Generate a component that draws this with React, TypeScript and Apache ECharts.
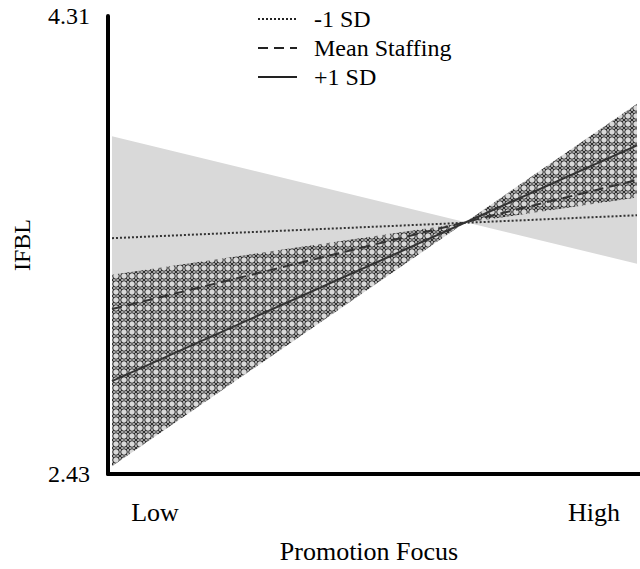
import React, { useEffect, useRef } from 'react';
import * as echarts from 'echarts';

// ---- data ----
const xLevels = [0, 1]; // Low, High promotion focus
const xTickLabels = ['Low', 'High'];
const xTickPositions = [0.082, 0.918];
const yTickValues = [2.43, 4.31];
const seriesNames = ['-1 SD', 'Mean Staffing', '+1 SD'];
const lowSD = [3.398, 3.492];
const meanStaffing = [3.107, 3.637];
const highSD = [2.811, 3.779];
// bands: two bounding lines each, value at Low and at High
const grayBandA = [3.816, 3.293];
const grayBandB = [2.98, 3.691];
const hatchBandA = [3.248, 3.565];
const hatchBandB = [2.462, 3.95];

const FONT = "'Liberation Serif', 'Times New Roman', serif";
const DASHES: any[] = [[2, 2], [10, 6], null];

function makeHatch(): HTMLCanvasElement {
  const c = document.createElement('canvas');
  c.width = 8;
  c.height = 8;
  const ctx = c.getContext('2d')!;
  ctx.fillStyle = '#d9d9d9';
  ctx.fillRect(0, 0, 8, 8);
  ctx.strokeStyle = '#2a2a2a';
  ctx.lineWidth = 1;
  ctx.beginPath();
  ctx.arc(4, 4, 3.3, 0, Math.PI * 2);
  ctx.stroke();
  ctx.lineWidth = 1.2;
  ctx.beginPath();
  const corners = [[0, 0], [8, 0], [0, 8], [8, 8]];
  for (const [cx, cy] of corners) {
    ctx.moveTo(cx - 2.2, cy - 2.2);
    ctx.lineTo(cx + 2.2, cy + 2.2);
    ctx.moveTo(cx + 2.2, cy - 2.2);
    ctx.lineTo(cx - 2.2, cy + 2.2);
  }
  ctx.stroke();
  return c;
}

function bandSeries(name: string, a: number[], b: number[], fill: any, z: number) {
  return {
    name,
    type: 'custom',
    z,
    silent: true,
    data: [[a[0], a[1], b[0], b[1]]],
    encode: { x: -1, y: -1 },
    renderItem: (_params: any, api: any) => {
      const pts = [
        api.coord([xLevels[0], api.value(0)]),
        api.coord([xLevels[1], api.value(1)]),
        api.coord([xLevels[1], api.value(3)]),
        api.coord([xLevels[0], api.value(2)]),
      ];
      return { type: 'polygon', shape: { points: pts }, style: { fill } };
    },
  };
}

function lineSeries(name: string, vals: number[], dash: any) {
  return {
    name,
    type: 'line',
    z: 5,
    symbol: 'none',
    data: xLevels.map((x, i) => [x, vals[i]]),
    itemStyle: { color: '#333' },
    lineStyle: { color: '#333', width: 2, type: dash || 'solid' },
  };
}

function legendGraphic() {
  const rowY = [19, 48, 77];
  const children: any[] = [];
  seriesNames.forEach((name, i) => {
    children.push({
      type: 'line',
      shape: { x1: 258, y1: rowY[i], x2: 297, y2: rowY[i] },
      style: { stroke: '#222', lineWidth: 2, lineDash: DASHES[i] || undefined },
    });
    children.push({
      type: 'text',
      x: 314,
      y: rowY[i],
      style: {
        text: name,
        font: "24px 'Liberation Serif', serif",
        fill: '#000',
        verticalAlign: 'middle',
        align: 'left',
      },
    });
  });
  return [{ type: 'group', children }];
}

export default function App() {
  const ref = useRef<HTMLDivElement>(null);
  useEffect(() => {
    if (!ref.current) return;
    const chart = echarts.init(ref.current, undefined, { renderer: 'svg' });
    const hatch = { image: makeHatch(), repeat: 'repeat', imageWidth: 8, imageHeight: 8 };
    chart.setOption({
      animation: false,
      backgroundColor: '#fff',
      textStyle: { fontFamily: FONT, color: '#000' },
      grid: { left: 108, right: 0, top: 16, bottom: 89, containLabel: false },
      graphic: legendGraphic(),
      xAxis: {
        type: 'value',
        min: -0.0076,
        max: 1.0057,
        axisLine: { show: true, onZero: false, lineStyle: { color: '#000', width: 4 } },
        axisTick: { show: false },
        splitLine: { show: false },
        axisLabel: {
          customValues: xTickPositions,
          formatter: (v: number) => {
            let best = 0;
            xTickPositions.forEach((p, i) => {
              if (Math.abs(p - v) < Math.abs(xTickPositions[best] - v)) best = i;
            });
            return xTickLabels[best];
          },
          fontFamily: FONT,
          fontSize: 26,
          color: '#000',
          margin: 25,
        },
        name: 'Promotion Focus',
        nameLocation: 'middle',
        nameGap: 64,
        nameTextStyle: { fontFamily: FONT, fontSize: 26, color: '#000', padding: [0, 10, 0, 0] },
      },
      yAxis: {
        type: 'value',
        min: 2.43,
        max: 4.31,
        axisLine: { show: true, onZero: false, lineStyle: { color: '#000', width: 4 } },
        axisTick: { show: false },
        splitLine: { show: false },
        axisLabel: {
          customValues: yTickValues,
          formatter: (v: number) => v.toFixed(2),
          fontFamily: FONT,
          fontSize: 24,
          color: '#000',
          margin: 18,
        },
        name: 'IFBL',
        nameLocation: 'middle',
        nameGap: 74,
        nameRotate: 90,
        nameTextStyle: { fontFamily: FONT, fontSize: 24, color: '#000' },
      },
      series: [
        bandSeries('grayBand', grayBandA, grayBandB, '#d9d9d9', 1),
        bandSeries('hatchBand', hatchBandA, hatchBandB, hatch, 2),
        lineSeries(seriesNames[0], lowSD, DASHES[0]),
        lineSeries(seriesNames[1], meanStaffing, DASHES[1]),
        lineSeries(seriesNames[2], highSD, DASHES[2]),
      ],
    });
    return () => chart.dispose();
  }, []);
  return (
    <div
      ref={ref}
      style={{ position: 'fixed', left: 0, top: 0, width: 640, height: 569, background: '#fff' }}
    />
  );
}
